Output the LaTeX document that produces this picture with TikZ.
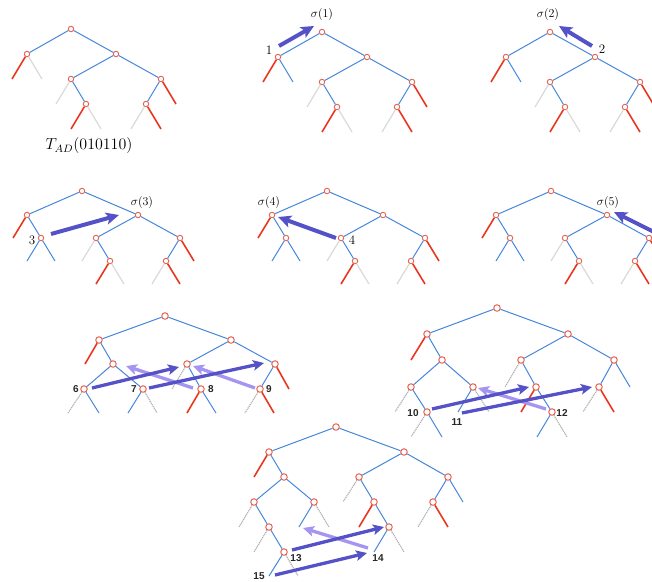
\documentclass[tikz,border=0pt]{standalone}
\usepackage{fontspec}
\newfontfamily\lblfont{Liberation Sans}
\usetikzlibrary{arrows.meta}
\definecolor{edgeblue}{RGB}{70,135,220}
\definecolor{edgered}{RGB}{232,55,30}
\definecolor{ndc}{RGB}{232,100,80}
\definecolor{arrdark}{RGB}{85,82,200}
\definecolor{arrlight}{RGB}{165,148,240}
\tikzset{
  nd/.style={circle,draw=ndc,fill=white,inner sep=0pt,minimum size=5.5pt,line width=0.9pt},
  ndb/.style={nd,minimum size=6.5pt,line width=1pt},
  be/.style={draw=edgeblue,line width=1pt},
  re/.style={draw=edgered,line width=1.6pt},
  ge/.style={draw=black!15,line width=1.2pt},
  gd/.style={draw=black!30,line width=1.2pt,dash pattern=on 1.2pt off 0.8pt},
  darr/.style={draw=arrdark,line width=4pt,-{Stealth[length=13pt,width=12pt,inset=3pt]}},
  darrs/.style={draw=arrdark,line width=3.3pt,-{Stealth[length=11pt,width=10.5pt,inset=2.5pt]}},
  larrs/.style={draw=arrlight,line width=3.3pt,-{Stealth[length=11pt,width=10.5pt,inset=2.5pt]}},
  num/.style={inner sep=0pt,font=\fontsize{13}{15}\selectfont},
  sig/.style={inner sep=0pt,font=\fontsize{12}{14}\selectfont},
  bl/.style={inner sep=0pt,text=black!85,font=\lblfont\bfseries\fontsize{10}{12}\selectfont}
}
\newcommand\lf[4]{\path (#2) ++(#3) coordinate (#4); \draw[#1] (#2) -- (#4);}
% tree shape A (rows 1): #1 prefix, #2 style of a's right leaf
\newcommand\treeA[2]{%
  \node[nd] (#1r) at (0,0) {};
  \node[nd] (#1a) at (-44,25) {};
  \node[nd] (#1b) at (45,25) {};
  \node[nd] (#1c) at (0,50) {};
  \node[nd] (#1d) at (90,50) {};
  \node[nd] (#1e) at (15,75) {};
  \node[nd] (#1f) at (75,75) {};
  \draw[be] (#1r)--(#1a) (#1r)--(#1b) (#1b)--(#1c) (#1b)--(#1d) (#1c)--(#1e) (#1d)--(#1f);
  \lf{re}{#1a}{-15,25}{#1a1} \lf{#2}{#1a}{15,25}{#1a2}
  \lf{ge}{#1c}{-15,25}{#1c1}
  \lf{re}{#1e}{-15,25}{#1e1} \lf{ge}{#1e}{15,25}{#1e2}
  \lf{re}{#1d}{15,25}{#1d2}
  \lf{ge}{#1f}{-15,25}{#1f1} \lf{re}{#1f}{15,25}{#1f2}
}
% tree shape B (row 2)
\newcommand\treeB[1]{%
  \node[nd] (#1r) at (0,0) {};
  \node[nd] (#1a) at (-55,24) {};
  \node[nd] (#1b) at (56,24) {};
  \node[nd] (#1g) at (-41,47) {};
  \node[nd] (#1c) at (14,47) {};
  \node[nd] (#1d) at (98,47) {};
  \node[nd] (#1e) at (28,70) {};
  \node[nd] (#1f) at (84,70) {};
  \draw[be] (#1r)--(#1a) (#1r)--(#1b) (#1a)--(#1g) (#1b)--(#1c) (#1b)--(#1d) (#1c)--(#1e) (#1d)--(#1f);
  \lf{re}{#1a}{-14,23}{#1a1}
  \lf{be}{#1g}{-14,23}{#1g1} \lf{be}{#1g}{14,23}{#1g2}
  \lf{ge}{#1c}{-14,23}{#1c1}
  \lf{re}{#1e}{-14,23}{#1e1} \lf{ge}{#1e}{14,23}{#1e2}
  \lf{re}{#1d}{14,23}{#1d2}
  \lf{ge}{#1f}{-14,23}{#1f1} \lf{re}{#1f}{14,23}{#1f2}
}
\begin{document}
\begin{tikzpicture}[x=1pt,y=-1pt]
\useasboundingbox (0,0) rectangle (652,581);
% ---------- row 1 ----------
\begin{scope}[shift={(71,29)}]\treeA{pa}{ge}\end{scope}
\node[inner sep=0pt,font=\fontsize{12}{14}\selectfont,scale=1.33] (tad) at (89,146) {$T_{AD}(010110)$};
\begin{scope}[shift={(322,32)}]\treeA{pb}{be}\end{scope}
\begin{scope}[shift={(550,32)}]\treeA{pc}{be}\end{scope}
\coordinate (a1s) at (279,46); \coordinate (a1e) at (314,26);
\draw[darr] (a1s) -- (a1e);
\node[num] (n1) at (269,50) {1};
\node[sig] (s1) at (322,14) {$\sigma(1)$};
\coordinate (a2s) at (592,46); \coordinate (a2e) at (559,26);
\draw[darr] (a2s) -- (a2e);
\node[num] (n2) at (602,49) {2};
\node[sig] (s2) at (548,14) {$\sigma(2)$};
% ---------- row 2 ----------
\begin{scope}[shift={(82,191)}]\treeB{pd}\end{scope}
\begin{scope}[shift={(327,191)}]\treeB{pe}\end{scope}
\begin{scope}[shift={(551,191)}]\treeB{pf}\end{scope}
\coordinate (a3s) at (51,234); \coordinate (a3e) at (119,215);
\draw[darr] (a3s) -- (a3e);
\node[num] (n3) at (32,240) {3};
\node[sig] (s3) at (142,202) {$\sigma(3)$};
\coordinate (a4s) at (336,238); \coordinate (a4e) at (278,217);
\draw[darr] (a4s) -- (a4e);
\node[num] (n4) at (352,240) {4};
\node[sig] (s4) at (269,202) {$\sigma(4)$};
\coordinate (a5s) at (662,236); \coordinate (a5e) at (614,212);
\draw[darr] (a5s) -- (a5e);
\node[num] (n5) at (672,240) {5};
\node[sig] (s5) at (608,202) {$\sigma(5)$};
% ---------- tree 7 ----------
\node[ndb] (qr) at (165,316) {};
\node[ndb] (qa) at (99,340) {};
\node[ndb] (qb) at (231,340) {};
\node[ndb] (qg) at (113,364) {};
\node[ndb] (qh) at (84,389) {};
\node[ndb] (qi) at (143,389) {};
\node[ndb] (qc) at (187,364) {};
\node[ndb] (qd) at (275,364) {};
\node[ndb] (qe) at (201,389) {};
\node[ndb] (qf) at (260,389) {};
\draw[be] (qr)--(qa) (qr)--(qb) (qa)--(qg) (qg)--(qh) (qg)--(qi) (qb)--(qc) (qb)--(qd) (qc)--(qe) (qd)--(qf);
\lf{re}{qa}{-14,24}{qa1}
\lf{gd}{qh}{-16,24}{qh1} \lf{be}{qh}{15,24}{qh2}
\lf{be}{qi}{-15,24}{qi1} \lf{gd}{qi}{14,24}{qi2}
\lf{gd}{qc}{-15,25}{qc1}
\lf{re}{qe}{-14,24}{qe1} \lf{be}{qe}{15,24}{qe2}
\lf{re}{qd}{14,25}{qd2}
\lf{gd}{qf}{-15,24}{qf1} \lf{re}{qf}{14,24}{qf2}
\coordinate (a8s) at (193,388); \coordinate (a8e) at (126,366);
\coordinate (a9s) at (255,388); \coordinate (a9e) at (193,366);
\coordinate (a6s) at (92,388); \coordinate (a6e) at (179,367);
\coordinate (a7s) at (149,388); \coordinate (a7e) at (264,363);
\draw[larrs] (a8s) -- (a8e);
\draw[larrs] (a9s) -- (a9e);
\draw[darrs] (a6s) -- (a6e);
\draw[darrs] (a7s) -- (a7e);
\node[bl] (l6) at (76,389) {6};
\node[bl] (l7) at (134,389) {7};
\node[bl] (l8) at (211,389) {8};
\node[bl] (l9) at (269,389) {9};
% ---------- tree 8 ----------
\node[ndb] (sr) at (497,308) {};
\node[ndb] (sa) at (427,334) {};
\node[ndb] (sb) at (568,334) {};
\node[ndb] (sg) at (442,360) {};
\node[ndb] (sh) at (411,387) {};
\node[ndb] (si) at (427,412) {};
\node[ndb] (sj) at (473,387) {};
\node[ndb] (sc) at (521,360) {};
\node[ndb] (se) at (536,387) {};
\node[ndb] (sk) at (552,412) {};
\node[ndb] (sd) at (614,360) {};
\node[ndb] (sf) at (599,387) {};
\draw[be] (sr)--(sa) (sr)--(sb) (sa)--(sg) (sg)--(sh) (sg)--(sj) (sh)--(si) (sb)--(sc) (sb)--(sd) (sc)--(se) (se)--(sk) (sd)--(sf);
\lf{re}{sa}{-16,26}{sa1}
\lf{gd}{sh}{-16,25}{sh1}
\lf{gd}{si}{-16,25}{si1} \lf{be}{si}{15,25}{si2}
\lf{be}{sj}{-15,25}{sj1} \lf{gd}{sj}{16,25}{sj2}
\lf{gd}{sc}{-16,27}{sc1}
\lf{re}{se}{-15,25}{se1}
\lf{be}{sk}{-15,25}{sk1} \lf{gd}{sk}{15,25}{sk2}
\lf{be}{sd}{16,27}{sd2}
\lf{gd}{sf}{-16,25}{sf1} \lf{re}{sf}{15,25}{sf2}
\coordinate (a12s) at (546,409); \coordinate (a12e) at (478,388);
\coordinate (a10s) at (432,409); \coordinate (a10e) at (529,387);
\coordinate (a11s) at (462,413); \coordinate (a11e) at (592,387);
\draw[larrs] (a12s) -- (a12e);
\draw[darrs] (a10s) -- (a10e);
\draw[darrs] (a11s) -- (a11e);
\node[bl] (l10) at (413,413) {10};
\node[bl] (l11) at (457,422) {11};
\node[bl] (l12) at (562,413) {12};
% ---------- tree 9 ----------
\node[ndb] (ur) at (336,427) {};
\node[ndb] (ua) at (269,452) {};
\node[ndb] (ub) at (404,452) {};
\node[ndb] (ug) at (284,477) {};
\node[ndb] (uh) at (254,502) {};
\node[ndb] (um) at (314,502) {};
\node[ndb] (ui) at (269,527) {};
\node[ndb] (uj) at (284,552) {};
\node[ndb] (uc) at (359,477) {};
\node[ndb] (ue) at (374,502) {};
\node[ndb] (uk) at (389,527) {};
\node[ndb] (ud) at (448,477) {};
\node[ndb] (uf) at (433,502) {};
\draw[be] (ur)--(ua) (ur)--(ub) (ua)--(ug) (ug)--(uh) (ug)--(um) (uh)--(ui) (ui)--(uj) (ub)--(uc) (ub)--(ud) (uc)--(ue) (ue)--(uk) (ud)--(uf);
\lf{re}{ua}{-15,25}{ua1}
\lf{gd}{uh}{-15,25}{uh1}
\lf{gd}{ui}{-15,25}{ui1}
\lf{be}{uj}{-15,24}{uj1} \lf{gd}{uj}{14,24}{uj2}
\lf{be}{um}{-15,25}{um1} \lf{gd}{um}{15,25}{um2}
\lf{gd}{uc}{-16,25}{uc1}
\lf{re}{ue}{-15,25}{ue1}
\lf{be}{uk}{-15,25}{uk1} \lf{gd}{uk}{15,25}{uk2}
\lf{be}{ud}{15,25}{ud2}
\lf{gd}{uf}{-15,25}{uf1} \lf{re}{uf}{15,25}{uf2}
\coordinate (a14s) at (368,548); \coordinate (a14e) at (303,528);
\coordinate (a13s) at (292,550); \coordinate (a13e) at (384,527);
\coordinate (a15s) at (275,575); \coordinate (a15e) at (367,553);
\draw[larrs] (a14s) -- (a14e);
\draw[darrs] (a13s) -- (a13e);
\draw[darrs] (a15s) -- (a15e);
\node[bl] (l13) at (296,558) {13};
\node[bl] (l14) at (378,558) {14};
\node[bl] (l15) at (259,576) {15};
\end{tikzpicture}
\end{document}
